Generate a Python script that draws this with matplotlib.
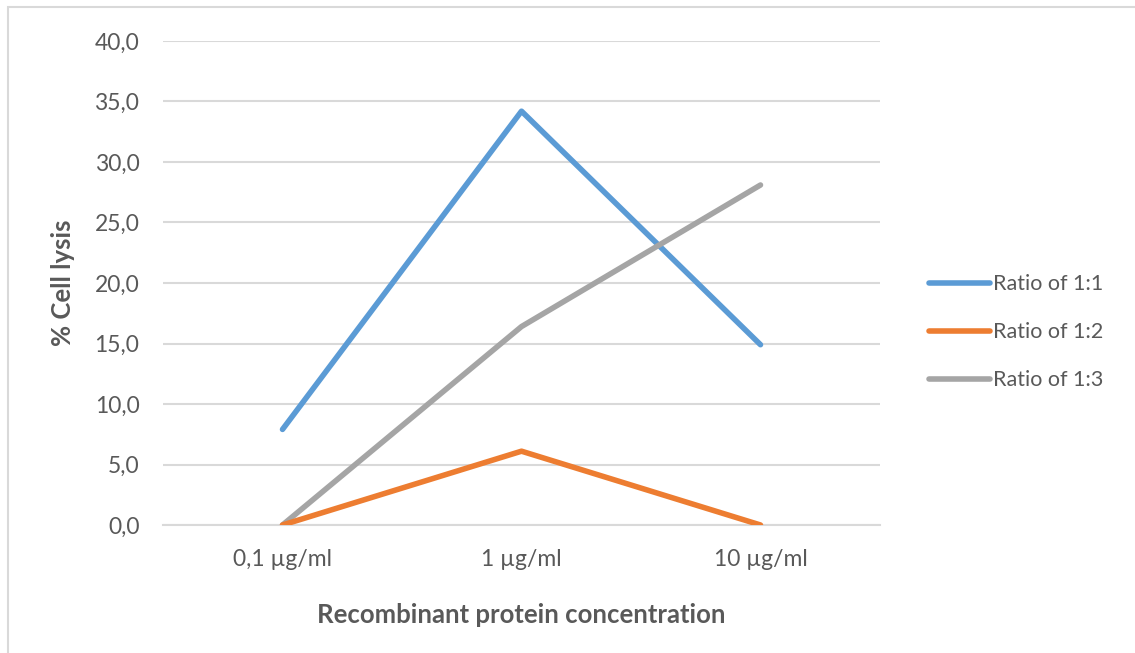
import numpy as np
import matplotlib
matplotlib.use("Agg")
import matplotlib.pyplot as plt
from matplotlib.patches import Rectangle

## Data
categories = ["0,1 \u00b5g/ml", "1 \u00b5g/ml", "10 \u00b5g/ml"]
ratio_1_1 = [7.9, 34.2, 14.9]
ratio_1_2 = [0.0, 6.1, 0.0]
ratio_1_3 = [0.0, 16.4, 28.1]
series_names = ["Ratio of 1:1", "Ratio of 1:2", "Ratio of 1:3"]
colors = ["#5B9BD5", "#ED7D31", "#A5A5A5"]

plt.rcParams['font.family'] = ['Lato', 'DejaVu Sans']
text_color = "#595959"

fig = plt.figure(figsize=(11.35, 6.53), dpi=100)
ax = fig.add_axes([163/1135, 1 - 525/653, (880-163)/1135, (525-41)/653])

x = np.arange(len(categories))
lines = []
for vals, name, c in zip([ratio_1_1, ratio_1_2, ratio_1_3], series_names, colors):
    ln, = ax.plot(x, vals, color=c, linewidth=4, solid_capstyle='round',
                  solid_joinstyle='round', label=name, zorder=3)
    lines.append(ln)
# orange drawn over gray at the origin
lines[1].set_zorder(4)

ax.set_xlim(-0.5, len(categories) - 0.5)
ax.set_ylim(0, 40)
ax.set_yticks(np.arange(0, 41, 5))
ax.yaxis.set_major_formatter(plt.FuncFormatter(lambda v, p: ('%.1f' % v).replace('.', ',')))
ax.set_xticks(x)
ax.set_xticklabels(categories)
ax.grid(axis='y', color='#D9D9D9', linewidth=1.5)
ax.set_axisbelow(True)
for s in ['top', 'right', 'left']:
    ax.spines[s].set_visible(False)
ax.spines['bottom'].set_color('#D9D9D9')
ax.spines['bottom'].set_linewidth(1.5)
ax.tick_params(length=0, colors=text_color, labelsize=16.5)
ax.tick_params(axis='y', pad=17)
ax.tick_params(axis='x', pad=17)

ax.set_ylabel('% Cell lysis', fontsize=18.5, fontweight='bold', color=text_color, labelpad=14)
ax.set_xlabel('Recombinant protein concentration', fontsize=18.5, fontweight='bold',
              color=text_color, labelpad=24)

leg = fig.legend(handles=lines, loc='upper left', bbox_to_anchor=(910/1135, 1 - 255/653),
                 frameon=False, fontsize=15.5, handlelength=2.8, handletextpad=0.15,
                 labelspacing=1.3, labelcolor=text_color)
for h in leg.legend_handles:
    h.set_linewidth(4)

# outer chart border
fig.patches.append(Rectangle((8/1135, -0.1), 1.2, 1 - 7/653 + 0.1, transform=fig.transFigure,
                             fill=False, edgecolor='#D9D9D9', linewidth=1.5))

plt.savefig('out.png', dpi=100)
